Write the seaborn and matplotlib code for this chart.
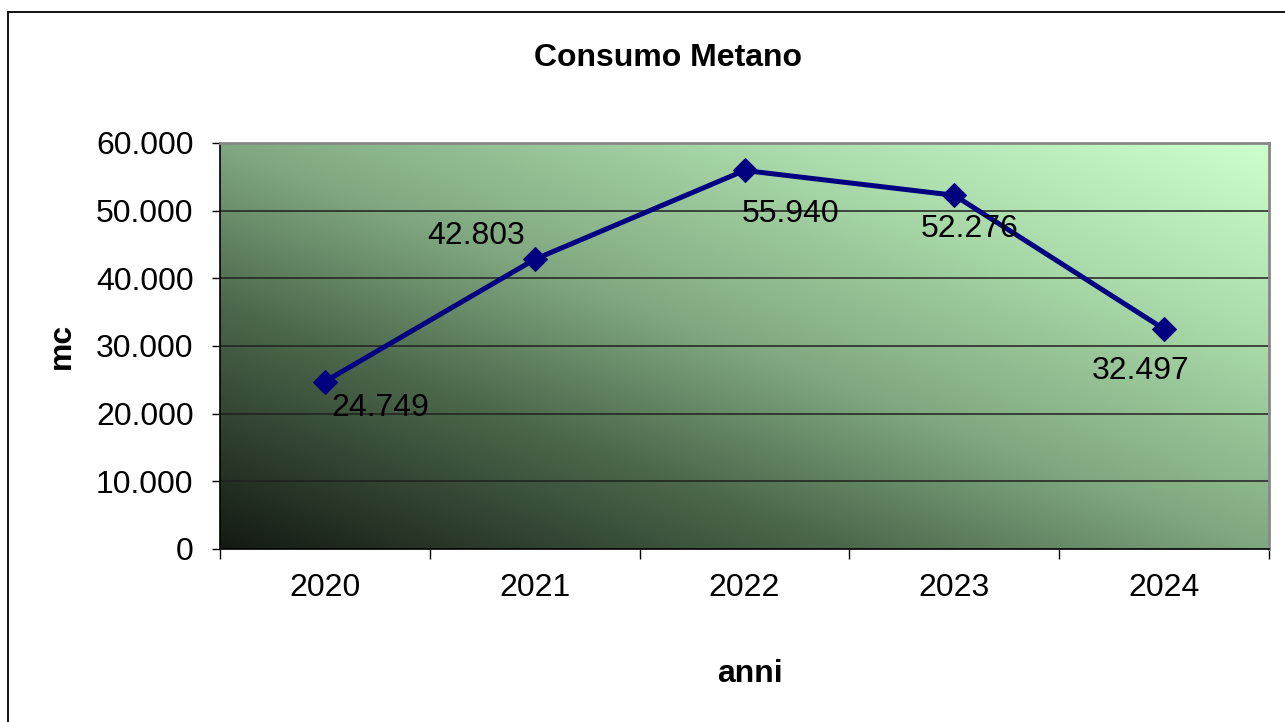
import numpy as np
import pandas as pd
import matplotlib
matplotlib.use("Agg")
import matplotlib.pyplot as plt
from matplotlib.colors import LinearSegmentedColormap
from matplotlib.lines import Line2D
import seaborn as sns

# dati
anni = ["2020", "2021", "2022", "2023", "2024"]
consumo = [24749, 42803, 55940, 52276, 32497]
y_ticks = [0, 10000, 20000, 30000, 40000, 50000, 60000]

# offset delle etichette (punti)
label_offsets = [(40, -19), (-42, 17), (33, -31), (11, -24), (-17, -30)]

sns.set_theme(style="white")
plt.rcParams["font.family"] = ["Liberation Sans", "DejaVu Sans"]
plt.rcParams["text.color"] = "black"
plt.rcParams["axes.labelcolor"] = "black"
plt.rcParams["xtick.color"] = "black"
plt.rcParams["ytick.color"] = "black"

FS = 23


def fmt(v):
    return f"{v:,}".replace(",", ".")


df = pd.DataFrame({"idx": range(len(anni)), "anno": anni, "mc": consumo})

fig = plt.figure(figsize=(12.85, 7.22), dpi=100)
ax = fig.add_axes([220 / 1285, 1 - 549 / 722, 1049 / 1285, 406 / 722])

# sfondo sfumato diagonale
cmap = LinearSegmentedColormap.from_list(
    "g", [(0, "#141a13"), (0.3, "#4c684c"), (0.5, "#80a880"),
          (0.75, "#a9d9a9"), (1, "#ccffcc")])
gx, gy = np.meshgrid(np.linspace(0, 1, 400), np.linspace(0, 1, 200))
grad = (gx + gy) / 2
ax.imshow(grad, cmap=cmap, extent=[0, 1, 0, 1], transform=ax.transAxes,
          origin="lower", aspect="auto", zorder=0, interpolation="bilinear")

for t in y_ticks[1:-1]:
    ax.axhline(t, color="#202020", lw=1.1, zorder=1)

sns.lineplot(data=df, x="idx", y="mc", marker="D", markersize=12,
             color="#000080", lw=3.6, markeredgecolor="#000080", ax=ax, zorder=3)

for i, (v, off) in enumerate(zip(consumo, label_offsets)):
    ax.annotate(fmt(v), (i, v), xytext=off, textcoords="offset points",
                ha="center", va="center", fontsize=FS, color="black", zorder=4)

ax.set_xlim(-0.5, len(anni) - 0.5)
ax.set_ylim(0, 60000)
ax.set_yticks(y_ticks)
ax.set_yticklabels([fmt(t) for t in y_ticks], fontsize=FS)
ax.set_xticks(np.arange(len(anni) + 1) - 0.5)
ax.set_xticklabels([])
ax.set_xticks(range(len(anni)), minor=True)
ax.set_xticklabels(anni, minor=True, fontsize=FS)
ax.tick_params(axis="y", which="major", left=True, length=6, width=1, color="black", pad=13)
ax.tick_params(axis="x", which="major", bottom=True, length=7, width=1, color="black")
ax.tick_params(axis="x", which="minor", bottom=False, length=0, pad=17)

for s in ["top", "right"]:
    ax.spines[s].set_color("#888888")
    ax.spines[s].set_linewidth(2)
for s in ["left", "bottom"]:
    ax.spines[s].set_color("black")
    ax.spines[s].set_linewidth(1.2)

ax.set_xlabel("anni", fontsize=FS, fontweight="bold")
ax.set_ylabel("mc", fontsize=FS, fontweight="bold")
ax.xaxis.set_label_coords((750 - 220) / 1049, (549 - 674) / 406)
ax.yaxis.set_label_coords((62 - 220) / 1049, 0.5)
ax.xaxis.label.set_va("center")
ax.yaxis.label.set_va("center")

fig.text(668 / 1285, 1 - 58 / 722, "Consumo Metano", ha="center", va="center",
         fontsize=FS, fontweight="bold")

# cornice esterna
fig.add_artist(Line2D([8 / 1285, 8 / 1285], [0, 1 - 12 / 722], color="black", lw=1.3,
                      transform=fig.transFigure))
fig.add_artist(Line2D([8 / 1285, 1], [1 - 12 / 722, 1 - 12 / 722], color="black", lw=1.3,
                      transform=fig.transFigure))

fig.savefig("out.png", dpi=100)
